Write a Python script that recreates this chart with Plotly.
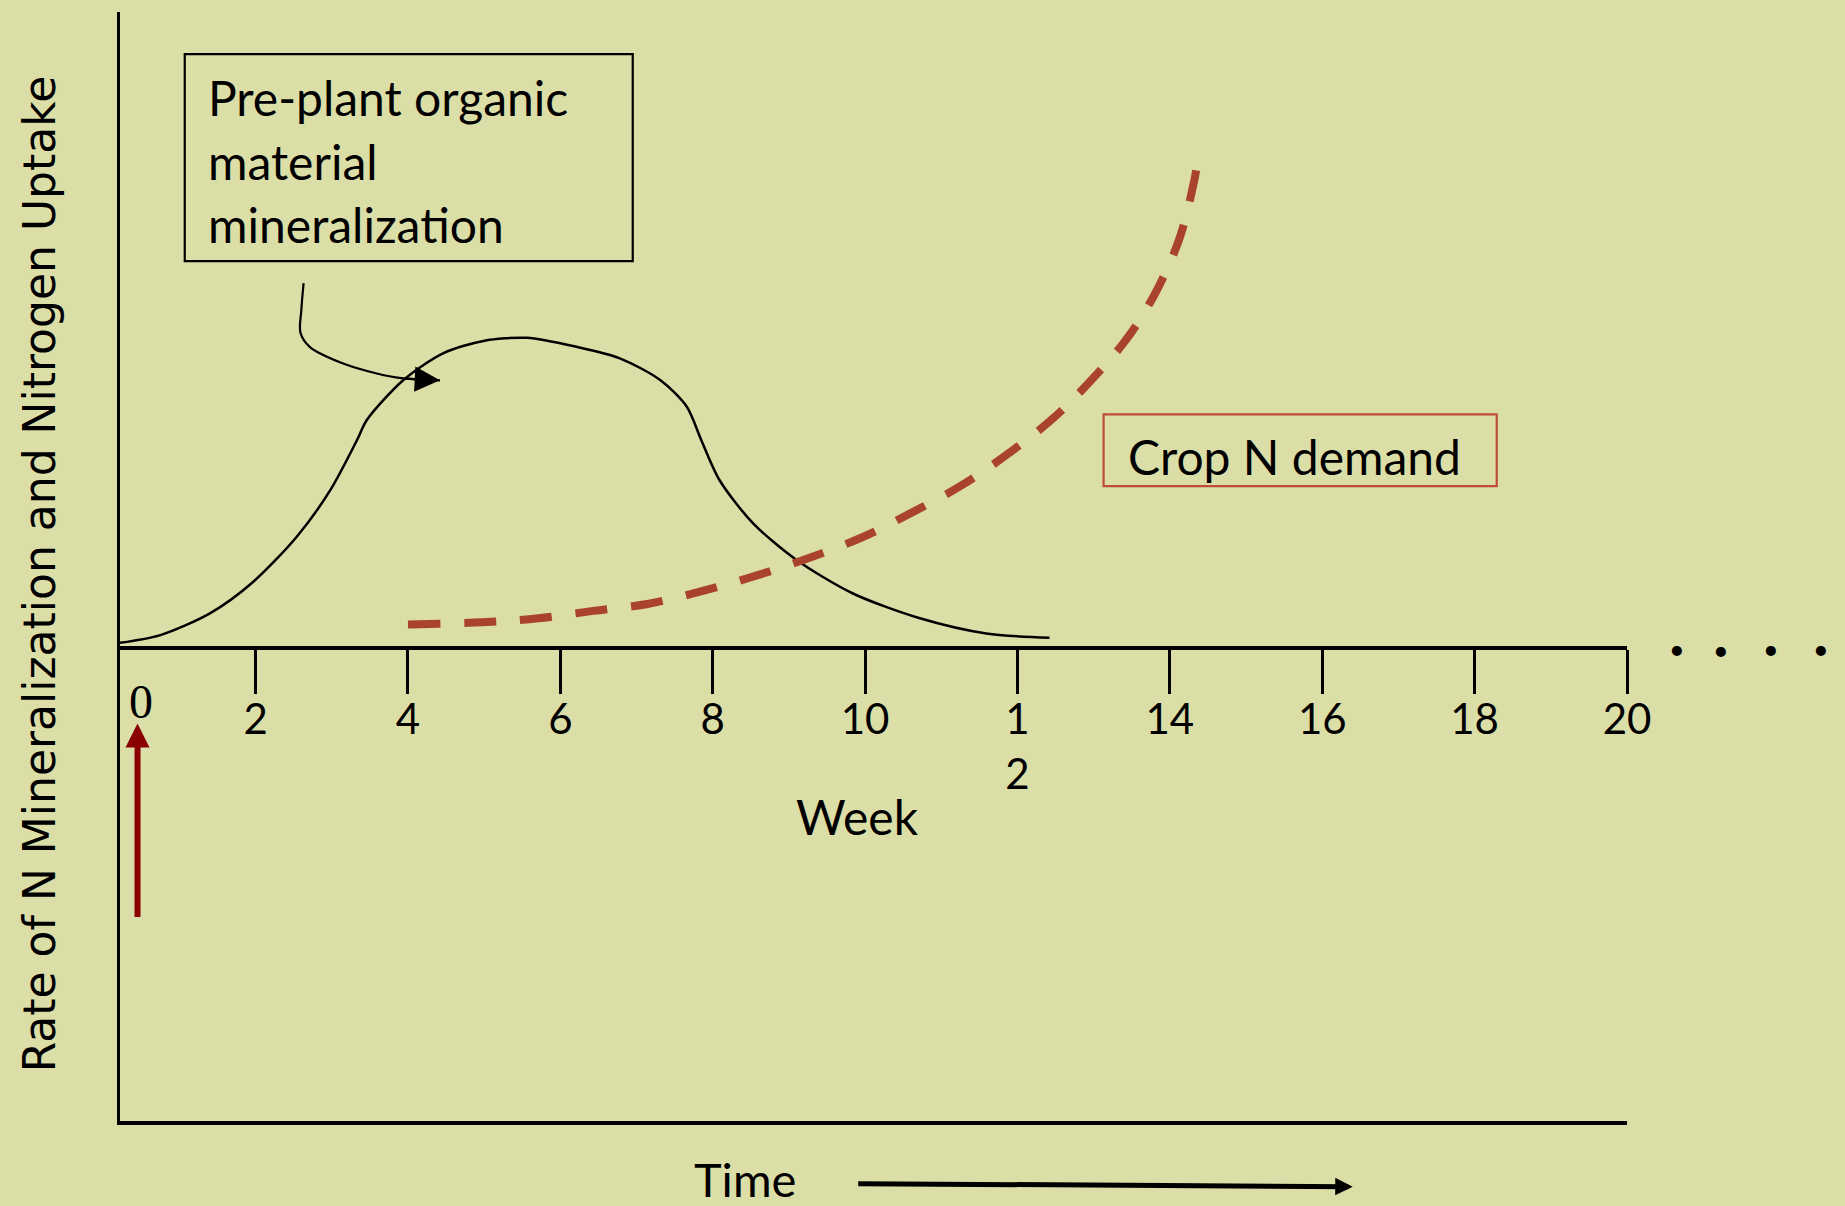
import plotly.graph_objects as go

# Semanas no eixo e rótulos (o "12" quebra em duas linhas no original)
tick_weeks = [0, 2, 4, 6, 8, 10, 12, 14, 16, 18, 20]
tick_labels = ["0", "2", "4", "6", "8", "10", "1<br>2", "14", "16", "18", "20"]

# Mineralização do material orgânico pré-plantio (curva preta)
mineral_week = [0.22, 0.75, 1.40, 1.97, 2.54, 2.98, 3.33, 3.46, 3.94, 4.46, 4.99, 5.56,
                6.21, 6.78, 7.31, 7.66, 7.85, 8.09, 8.53, 9.10, 9.84, 10.72, 11.59, 12.42]
mineral_rate = [0.17, 0.42, 1.12, 2.14, 3.59, 5.09, 6.70, 7.35, 8.64, 9.50, 9.90, 10.0,
                9.71, 9.34, 8.64, 7.78, 6.70, 5.41, 4.02, 2.84, 1.76, 0.96, 0.47, 0.33]

# Demanda de N da cultura (tracejado vermelho)
demand_week = [4.0, 4.97, 5.71, 6.43, 7.16, 7.88, 8.59, 9.29, 9.97, 10.63,
               11.27, 11.88, 12.46, 12.97, 13.45, 13.83, 14.13, 14.31, 14.35]
demand_rate = [0.76, 0.83, 0.96, 1.20, 1.43, 1.85, 2.35, 2.93, 3.58, 4.39,
               5.25, 6.27, 7.39, 8.64, 10.02, 11.54, 13.23, 14.95, 15.47]

# Seta curva que liga a caixa de texto ao pico
pointer_week = [2.63, 2.60, 2.59, 2.71, 3.15, 3.59, 3.94, 4.42]
pointer_rate = [11.76, 10.89, 10.15, 9.71, 9.17, 8.85, 8.69, 8.63]

# Reticências depois da semana 20
dots_week = [20.65, 21.24, 21.89, 22.55]
dots_rate = [-0.19, -0.25, -0.19, -0.19]

box_lines = ["Pre-plant organic", "material", "mineralization"]

x_range = [0.22, 20]
y_range = [-15.24, 20.50]

BG = "#DBDEA6"
RED = "#A9432D"
FONT = "Lato"


def px(w):
    return (w - x_range[0]) / (x_range[1] - x_range[0])


def py(v):
    return (v - y_range[0]) / (y_range[1] - y_range[0])


fig = go.Figure()

fig.add_trace(go.Scatter(x=mineral_week, y=mineral_rate, mode="lines",
                         line=dict(color="black", width=2.5, shape="spline", smoothing=0.8),
                         hoverinfo="skip", showlegend=False))
fig.add_trace(go.Scatter(x=demand_week, y=demand_rate, mode="lines", xaxis="x2",
                         line=dict(color=RED, width=8, dash="32px,24px", shape="spline", smoothing=1.0),
                         hoverinfo="skip", showlegend=False))
fig.add_trace(go.Scatter(x=pointer_week, y=pointer_rate, mode="lines",
                         line=dict(color="black", width=2.2, shape="spline", smoothing=1.0),
                         hoverinfo="skip", showlegend=False))
# ponta da seta
fig.add_annotation(x=pointer_week[-1], y=pointer_rate[-1], ax=pointer_week[-2], ay=pointer_rate[-2],
                   axref="x", ayref="y", text="", showarrow=True, arrowhead=2,
                   arrowsize=2.3, arrowwidth=2.2, arrowcolor="black")

# caixas de texto
fig.add_shape(type="rect", x0=1.07, x1=6.95, y0=12.47, y1=19.14,
              line=dict(color="black", width=2.2))
for i, txt in enumerate(box_lines):
    fig.add_annotation(x=1.35, y=17.73 - i * 2.045, text=txt, showarrow=False,
                       xanchor="left", yanchor="middle",
                       font=dict(family=FONT, size=48, color="black"))

fig.add_shape(type="rect", x0=13.13, x1=18.29, y0=5.22, y1=7.53,
              line=dict(color="#BE4B3B", width=2.2))
fig.add_annotation(x=13.42, y=6.17, text="Crop N demand", showarrow=False,
                   xanchor="left", yanchor="middle",
                   font=dict(family=FONT, size=48, color="black"))

# rótulo "0" em serifa, deslocado à direita
fig.add_annotation(x=0.49, y=-1.73, text=tick_labels[0], showarrow=False,
                   xanchor="center", yanchor="middle",
                   font=dict(family="Liberation Serif", size=48, color="black"))

# seta vermelha em t=0
fig.add_annotation(x=0.45, y=-2.43, ax=0.45, ay=-8.71, axref="x", ayref="y",
                   text="", showarrow=True, arrowhead=2, arrowsize=0.8,
                   arrowwidth=6, arrowcolor="#8B0000")

fig.add_annotation(x=9.9, y=-5.43, text="Week", showarrow=False,
                   xanchor="center", yanchor="middle",
                   font=dict(family=FONT, size=48, color="black"))

# reticências fora do eixo
for w, v in zip(dots_week, dots_rate):
    fig.add_annotation(xref="paper", yref="paper", x=px(w), y=py(v), text="•",
                       showarrow=False, xanchor="center", yanchor="middle", yshift=6,
                       font=dict(family=FONT, size=27, color="black"))

# Time ->
fig.add_annotation(xref="paper", yref="paper", x=0.4147, y=-0.052, text="Time",
                   showarrow=False, xanchor="center", yanchor="middle",
                   font=dict(family=FONT, size=47, color="black"))
fig.add_annotation(xref="paper", yref="paper", x=0.818, y=-0.0592, ax=-496, ay=-3,
                   text="", showarrow=True, arrowhead=2, arrowsize=0.7,
                   arrowwidth=5, arrowcolor="black")

fig.add_annotation(xref="paper", x=-0.0537, y=2.38,
                   text="Rate of N Mineralization and Nitrogen Uptake",
                   textangle=-90, showarrow=False, xanchor="center", yanchor="middle",
                   font=dict(family="DejaVu Sans", size=44, color="black"))

fig.update_layout(
    width=1845, height=1206,
    margin=dict(l=120, r=218, t=12, b=85),
    paper_bgcolor=BG, plot_bgcolor=BG,
    xaxis=dict(range=x_range, showline=True, linecolor="black", linewidth=4,
               showgrid=False, zeroline=False, showticklabels=False, ticks=""),
    xaxis2=dict(range=x_range, overlaying="x", anchor="free",
                position=py(0), side="bottom",
                showline=True, linecolor="black", linewidth=3.5,
                showgrid=False, zeroline=False,
                tickmode="array", tickvals=tick_weeks,
                ticktext=[""] + tick_labels[1:],
                ticks="outside", ticklen=44, tickwidth=2.5, tickcolor="black",
                ticklabelstandoff=-10,
                tickfont=dict(family=FONT, size=42, color="black")),
    yaxis=dict(range=y_range, showline=True, linecolor="black", linewidth=2.5,
               showgrid=False, zeroline=False, showticklabels=False, ticks=""),
)

fig.write_html("out.html", config={"displayModeBar": False},
               post_script="document.body.style.margin='0';document.body.style.background='%s';" % BG)
